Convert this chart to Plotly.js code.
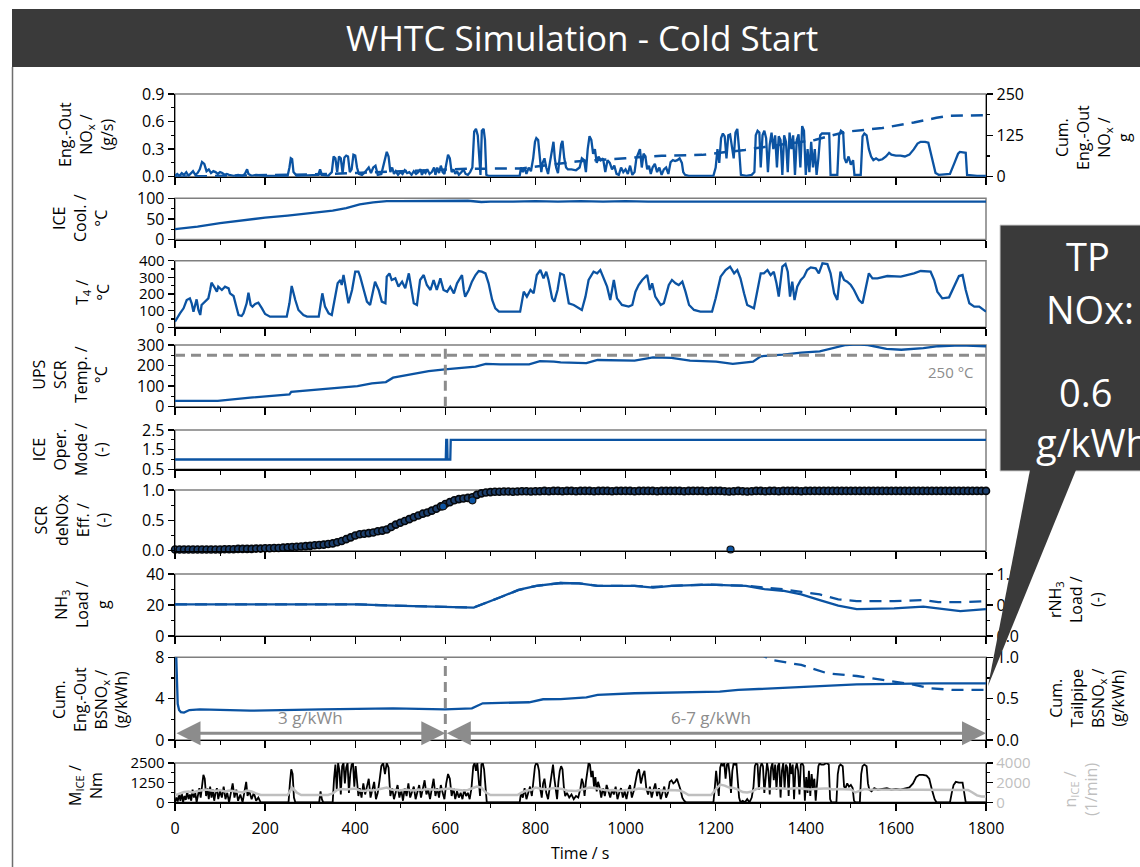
<!DOCTYPE html>
<html><head><meta charset="utf-8">
<script src="https://cdn.plot.ly/plotly-3.0.1.min.js"></script>
<style>html,body{margin:0;padding:0;background:#fff}#chart{width:1140px;height:867px}</style>
</head><body><div id="chart"></div>
<script>
// ---------------- DATA (time in s) ----------------
const xTicks = [0,200,400,600,800,1000,1200,1400,1600,1800];

// Engine-out NOx mass flow (g/s)
const noxPts = [[0,0.01],[5,0.03],[10,0.01],[15,0.04],[20,0.02],[25,0.05],[30,0.01],[35,0.03],[40,0.06],[45,0.02],[50,0.04],[55,0.08],[60,0.16],[65,0.14],[70,0.06],[75,0.08],[80,0.04],[85,0.06],[90,0.05],[95,0.03],[100,0.05],[105,0.04],[110,0.02],[115,0.03],[120,0.02],[130,0.01],[140,0.02],[150,0.01],[155,0.03],[160,0.08],[163,0.03],[170,0.01],[180,0.02],[200,0.01],[220,0.01],[250,0.01],[254,0.1],[257,0.2],[260,0.19],[263,0.05],[270,0.01],[318,0.02],[322,0.08],[326,0.02],[340,0.01],[348,0.05],[352,0.22],[356,0.2],[360,0.05],[364,0.22],[368,0.2],[372,0.04],[376,0.21],[380,0.23],[384,0.22],[388,0.05],[392,0.08],[396,0.24],[400,0.23],[404,0.1],[408,0.03],[415,0.02],[420,0.04],[426,0.08],[430,0.1],[435,0.04],[440,0.1],[445,0.12],[450,0.02],[458,0.03],[462,0.12],[466,0.2],[470,0.27],[474,0.22],[478,0.05],[482,0.1],[486,0.03],[490,0.06],[495,0.02],[500,0.05],[505,0.03],[510,0.07],[515,0.04],[520,0.05],[525,0.02],[530,0.06],[535,0.03],[540,0.05],[545,0.08],[548,0.02],[552,0.06],[556,0.04],[560,0.08],[565,0.03],[570,0.05],[575,0.1],[578,0.02],[582,0.1],[586,0.04],[590,0.12],[594,0.05],[598,0.03],[602,0.15],[606,0.24],[610,0.2],[614,0.05],[618,0.08],[622,0.03],[626,0.06],[630,0.02],[636,0.05],[640,0.08],[645,0.03],[650,0.02],[655,0.05],[660,0.1],[664,0.49],[668,0.52],[672,0.45],[675,0.2],[678,0.02],[681,0.5],[685,0.52],[688,0.4],[691,0.02],[695,0.01],[765,0.01],[768,0.1],[772,0.05],[776,0.1],[780,0.03],[785,0.1],[790,0.06],[795,0.2],[799,0.38],[802,0.42],[806,0.4],[810,0.2],[813,0.05],[816,0.15],[820,0.2],[824,0.1],[828,0.03],[832,0.15],[836,0.25],[840,0.38],[843,0.2],[846,0.1],[850,0.04],[853,0.2],[857,0.35],[860,0.39],[864,0.2],[868,0.1],[872,0.08],[880,0.08],[890,0.07],[898,0.1],[903,0.2],[908,0.18],[912,0.05],[916,0.3],[920,0.44],[924,0.4],[928,0.25],[932,0.3],[936,0.15],[940,0.22],[945,0.18],[950,0.2],[955,0.05],[960,0.18],[965,0.15],[970,0.08],[975,0.12],[980,0.03],[985,0.02],[990,0.1],[995,0.05],[1000,0.08],[1005,0.03],[1010,0.12],[1015,0.02],[1020,0.05],[1024,0.2],[1028,0.25],[1032,0.3],[1036,0.1],[1040,0.25],[1044,0.22],[1048,0.08],[1052,0.12],[1056,0.03],[1060,0.1],[1065,0.14],[1070,0.05],[1075,0.1],[1080,0.02],[1085,0.08],[1090,0.1],[1095,0.03],[1100,0.16],[1105,0.18],[1110,0.17],[1115,0.18],[1120,0.2],[1125,0.15],[1128,0.05],[1132,0.02],[1140,0.01],[1195,0.01],[1200,0.1],[1204,0.3],[1208,0.15],[1212,0.42],[1216,0.47],[1220,0.44],[1224,0.2],[1228,0.45],[1232,0.46],[1236,0.3],[1240,0.2],[1244,0.48],[1248,0.52],[1252,0.3],[1256,0.02],[1268,0.01],[1280,0.02],[1286,0.05],[1289,0.45],[1293,0.5],[1297,0.48],[1300,0.1],[1304,0.45],[1308,0.5],[1312,0.42],[1316,0.05],[1320,0.35],[1324,0.48],[1328,0.3],[1332,0.45],[1336,0.1],[1340,0.44],[1344,0.4],[1348,0.02],[1352,0.45],[1356,0.38],[1360,0.05],[1364,0.48],[1368,0.3],[1372,0.45],[1376,0.02],[1380,0.4],[1384,0.46],[1388,0.1],[1392,0.55],[1396,0.5],[1400,0.02],[1404,0.3],[1408,0.05],[1412,0.38],[1416,0.1],[1420,0.3],[1424,0.02],[1428,0.2],[1432,0.45],[1436,0.47],[1444,0.47],[1452,0.47],[1455,0.02],[1470,0.02],[1474,0.45],[1478,0.5],[1483,0.48],[1486,0.2],[1490,0.15],[1495,0.22],[1500,0.13],[1505,0.18],[1508,0.02],[1522,0.02],[1526,0.44],[1530,0.47],[1535,0.45],[1540,0.3],[1545,0.22],[1550,0.18],[1556,0.2],[1562,0.18],[1570,0.19],[1578,0.22],[1585,0.26],[1590,0.24],[1600,0.23],[1610,0.23],[1620,0.22],[1630,0.24],[1640,0.3],[1648,0.36],[1655,0.38],[1665,0.38],[1672,0.37],[1680,0.2],[1688,0.04],[1695,0.02],[1720,0.03],[1730,0.15],[1738,0.25],[1742,0.27],[1755,0.26],[1758,0.02],[1780,0.01],[1800,0.01]];

// Cumulative engine-out NOx (g)
const cumNoxPts = [[0,0],[100,2],[200,4],[300,7],[400,11],[500,16],[600,20],[650,24],[770,25],[800,30],[890,46],[1000,56],[1080,63],[1170,66],[1265,81],[1350,98],[1420,111],[1490,136],[1570,147],[1640,164],[1690,178],[1720,184],[1800,186]];

// ICE coolant temperature (°C)
const coolPts = [[0,25],[50,31],[100,40],[150,47],[200,53],[250,58],[300,64],[350,70],[380,76],[410,85],[440,90],[470,93],[500,93],[550,93],[600,93],[650,94],[680,91],[700,92],[750,92],[800,93],[850,92],[900,93],[950,92],[1000,93],[1050,92],[1100,92],[1150,93],[1200,92],[1250,93],[1300,92],[1350,93],[1400,92],[1450,93],[1500,92],[1550,93],[1600,92],[1650,93],[1700,92],[1750,92],[1800,92]];

// T4 exhaust temperature (°C)
const t4Pts = [[0,34],[4,54],[11,84],[19,114],[26,164],[33,174],[37,144],[41,94],[45,140],[48,168],[52,104],[56,74],[59,134],[67,154],[74,174],[78,224],[81,268],[89,234],[93,214],[96,244],[104,224],[111,244],[119,234],[122,204],[130,188],[137,114],[141,74],[148,68],[152,84],[159,144],[163,208],[168,134],[172,124],[178,140],[185,148],[193,114],[200,80],[211,64],[248,64],[254,144],[259,248],[267,164],[274,104],[285,74],[293,64],[319,64],[324,144],[327,204],[333,124],[341,84],[348,74],[356,204],[361,264],[367,284],[370,254],[374,314],[378,254],[381,184],[385,144],[393,224],[400,334],[407,334],[411,304],[419,224],[426,154],[433,134],[439,224],[444,274],[452,224],[459,154],[467,144],[470,304],[476,324],[481,284],[489,294],[496,244],[504,274],[511,234],[519,324],[524,244],[530,144],[537,134],[544,284],[552,314],[559,254],[567,224],[574,284],[581,224],[589,294],[596,224],[604,214],[611,244],[619,204],[626,264],[637,314],[641,224],[644,184],[652,224],[659,274],[667,314],[674,338],[681,334],[689,324],[696,264],[704,164],[711,114],[719,94],[766,94],[774,214],[781,184],[789,224],[796,204],[803,314],[811,344],[818,294],[824,334],[829,284],[837,174],[842,154],[849,224],[855,324],[863,314],[869,214],[874,144],[885,134],[896,114],[903,104],[911,184],[918,284],[929,334],[937,324],[944,344],[952,294],[959,244],[966,164],[974,284],[981,174],[992,134],[1007,124],[1015,134],[1022,214],[1029,254],[1037,284],[1048,314],[1054,224],[1059,264],[1066,184],[1078,134],[1085,144],[1090,194],[1096,254],[1103,284],[1111,264],[1118,254],[1126,274],[1133,214],[1141,134],[1152,104],[1166,94],[1192,94],[1200,174],[1211,304],[1222,344],[1232,364],[1241,324],[1248,344],[1255,294],[1263,204],[1270,134],[1285,114],[1292,224],[1300,324],[1307,324],[1315,344],[1322,314],[1329,334],[1335,264],[1340,184],[1348,364],[1355,380],[1360,334],[1365,184],[1370,274],[1375,164],[1381,244],[1389,284],[1396,304],[1403,344],[1411,360],[1422,354],[1429,324],[1437,384],[1448,380],[1455,324],[1463,204],[1470,164],[1477,334],[1485,284],[1492,274],[1500,254],[1507,224],[1518,164],[1526,144],[1533,244],[1540,324],[1548,294],[1559,294],[1581,308],[1611,304],[1640,324],[1655,338],[1677,334],[1685,284],[1692,214],[1703,174],[1718,180],[1729,244],[1740,308],[1748,314],[1755,224],[1763,144],[1774,124],[1785,124],[1796,100],[1800,94]];

// Upstream SCR temperature (°C)
const upsPts = [[0,28],[95,28],[167,44],[214,54],[254,60],[258,72],[325,84],[365,94],[405,100],[437,113],[468,120],[484,141],[524,159],[563,173],[599,182],[643,190],[667,195],[690,208],[722,206],[786,206],[810,222],[841,219],[856,216],[913,212],[938,227],[1020,224],[1061,240],[1102,237],[1143,224],[1201,219],[1238,208],[1283,219],[1300,245],[1349,253],[1390,263],[1431,269],[1464,285],[1489,300],[1513,303],[1538,300],[1579,281],[1612,277],[1661,285],[1694,294],[1743,298],[1800,294]];

// ICE operation mode (-)
const modePts = [[0,1],[601,1],[602,2],[604,2],[605,1],[611,1],[612,2],[1800,2]];

// SCR deNOx efficiency (-), every 10 s from 0 to 1800 s
const effVals = [0.02,0.02,0.02,0.02,0.02,0.02,0.02,0.02,0.02,0.02,0.02,
0.025,0.025,0.025,0.03,0.03,0.03,0.03,
0.035,0.035,0.04,0.04,0.045,0.045,0.05,
0.055,0.06,0.065,0.07,0.075,0.08,0.09,0.095,0.1,0.11,0.12,
0.14,0.16,0.19,0.22,0.25,0.27,0.28,0.29,0.3,0.32,
0.33,0.35,0.39,0.43,0.46,0.49,0.52,0.55,0.58,0.61,
0.63,0.66,0.69,0.73,0.77,0.8,0.83,0.85,0.86,0.87,
0.88,0.92,0.945,0.96,0.965,
0.97,0.97,0.975,0.975,0.97,0.975,0.98,0.98,0.975,0.98,
0.98,0.985,0.98,0.985,0.985,0.98,0.985,0.985,0.98,0.985,
0.985,0.985,0.98,0.985,0.985,0.985,0.98,0.985,0.985,0.985,
0.985,0.98,0.985,0.985,0.985,0.985,0.98,0.985,0.985,0.985,
0.985,0.985,0.98,0.985,0.985,0.985,0.985,0.98,0.985,0.985,
0.985,0.98,0.975,0.98,0.985,0.98,0.975,0.98,0.985,0.985,
0.98,0.985,0.985,0.98,0.985,0.985,0.985,0.985,0.98,0.985,
0.985,0.985,0.985,0.985,0.985,0.985,0.985,0.985,0.985,0.985,
0.985,0.985,0.985,0.985,0.985,0.985,0.985,0.985,0.985,0.985,
0.985,0.985,0.985,0.985,0.985,0.985,0.985,0.985,0.985,0.985,
0.985,0.985,0.985,0.985,0.985,0.985,0.985,0.985,0.985,0.985];
const effOutliers = [[595,0.73],[660,0.83],[1233,0.02]];

// NH3 load (g) and relative NH3 load (-)
const nh3Pts = [[0,20.4],[405,20.4],[484,19.6],[563,18.9],[663,18.3],[722,25],[762,29.7],[802,32.3],[856,34.2],[897,34],[938,32.3],[1020,32.3],[1061,31.2],[1102,32.3],[1184,33.1],[1267,32.3],[1308,30.3],[1349,29.2],[1390,26.9],[1431,23.2],[1472,19.6],[1513,17.4],[1596,17.8],[1661,18.9],[1694,17.8],[1743,16.1],[1800,17.4]];
const rnh3Pts = [[0,0.51],[405,0.51],[484,0.49],[563,0.475],[663,0.46],[722,0.625],[762,0.74],[802,0.81],[856,0.855],[897,0.85],[938,0.81],[1020,0.81],[1061,0.79],[1102,0.81],[1184,0.83],[1267,0.81],[1308,0.78],[1349,0.754],[1390,0.71],[1431,0.67],[1472,0.59],[1513,0.563],[1596,0.563],[1661,0.58],[1694,0.546],[1743,0.546],[1800,0.563]];

// Cumulative brake-specific NOx (g/kWh): engine-out (left) and tailpipe (right)
const bsEoPts = [[0,12],[2,8.5],[4,4.2],[6,3.5],[9,2.9],[13,2.7],[20,2.65],[32,2.9],[55,2.97],[167,2.84],[325,2.97],[484,3.06],[599,2.97],[659,3.06],[683,3.55],[722,3.6],[786,3.65],[817,3.94],[856,3.96],[913,4.13],[938,4.36],[1020,4.52],[1102,4.61],[1209,4.68],[1250,4.84],[1349,5.06],[1431,5.23],[1513,5.39],[1596,5.42],[1678,5.48],[1800,5.48]];
const bsTpPts = [[1290,1.06],[1324,0.968],[1390,0.907],[1448,0.806],[1513,0.774],[1579,0.718],[1636,0.673],[1678,0.625],[1727,0.605],[1800,0.605]];

// ICE torque (Nm)
const torqPts = [[0,0],[3,300],[6,50],[9,500],[12,100],[15,600],[18,0],[21,400],[24,150],[27,700],[30,200],[33,500],[36,100],[39,800],[42,300],[45,600],[48,0],[51,400],[54,900],[57,300],[60,1200],[63,1750],[66,1500],[69,400],[72,900],[75,200],[78,1000],[81,300],[84,800],[87,100],[90,600],[93,900],[96,200],[100,700],[104,300],[108,1000],[112,200],[116,600],[120,0],[124,500],[128,1200],[132,300],[136,800],[140,100],[145,500],[150,0],[155,900],[158,1300],[161,400],[165,700],[170,200],[175,600],[180,100],[185,300],[190,0],[252,0],[255,1200],[258,2100],[261,1800],[264,300],[267,0],[320,0],[323,700],[326,200],[329,0],[350,0],[353,1500],[356,2400],[359,800],[362,2500],[365,2000],[368,500],[371,2300],[374,2500],[377,1200],[380,2200],[383,2500],[386,600],[389,1800],[392,2400],[395,2500],[398,1000],[401,2300],[404,1500],[407,400],[410,900],[414,300],[418,1200],[422,500],[426,1000],[430,1500],[434,300],[438,800],[442,1300],[446,200],[450,600],[454,1400],[458,2300],[462,2500],[466,1800],[470,2500],[474,2200],[478,400],[482,900],[486,200],[490,700],[494,1100],[498,300],[502,800],[506,100],[510,900],[514,400],[518,1200],[522,300],[526,700],[530,1000],[534,200],[538,600],[542,1100],[546,300],[550,900],[554,1400],[558,500],[562,800],[566,200],[570,1000],[574,1500],[578,400],[582,900],[586,300],[590,1100],[594,600],[598,200],[602,1200],[606,1800],[610,1500],[614,400],[618,900],[622,200],[626,700],[630,300],[634,600],[638,200],[642,800],[646,400],[650,600],[654,200],[658,900],[662,2300],[665,2500],[668,2000],[671,2500],[674,1200],[677,400],[680,2400],[683,2500],[686,2100],[689,800],[692,0],[765,0],[768,600],[772,300],[776,900],[780,200],[784,700],[788,1000],[792,400],[796,1500],[799,2300],[802,2500],[805,2400],[808,2000],[811,800],[814,300],[817,1200],[820,1500],[824,600],[828,200],[832,1100],[836,1800],[839,2400],[842,1500],[845,600],[848,200],[851,1300],[854,2000],[857,2300],[860,2100],[863,1000],[866,400],[870,600],[875,300],[880,500],[885,200],[890,400],[895,300],[900,900],[903,1500],[906,1200],[909,400],[912,1300],[915,2000],[918,2500],[921,2400],[924,1600],[927,2000],[930,1000],[933,1600],[936,700],[939,1300],[942,1000],[946,300],[950,900],[954,400],[958,1100],[962,700],[966,300],[970,800],[974,500],[978,1000],[982,200],[986,600],[990,900],[994,300],[998,700],[1002,200],[1006,800],[1010,1100],[1014,300],[1018,700],[1022,1400],[1026,1900],[1030,2100],[1034,1200],[1038,1700],[1042,2000],[1046,900],[1050,500],[1054,1000],[1058,300],[1062,800],[1066,1200],[1070,400],[1074,900],[1078,200],[1082,700],[1086,1000],[1090,300],[1094,600],[1098,1300],[1102,1400],[1106,1200],[1110,1300],[1114,1500],[1118,1200],[1122,800],[1126,300],[1130,100],[1134,0],[1195,0],[1198,900],[1201,2000],[1204,1200],[1207,400],[1210,2200],[1213,2500],[1216,2300],[1219,2500],[1222,1500],[1225,2400],[1228,2500],[1231,1800],[1234,600],[1237,2000],[1240,2500],[1243,2400],[1246,2500],[1249,1200],[1252,300],[1255,0],[1260,100],[1265,0],[1270,200],[1275,0],[1280,300],[1284,1000],[1287,2300],[1290,2500],[1293,2400],[1296,800],[1299,2200],[1302,2500],[1305,2300],[1308,600],[1311,1900],[1314,2500],[1317,2000],[1320,500],[1323,2200],[1326,2500],[1329,1400],[1332,2400],[1335,800],[1338,2300],[1341,2500],[1344,300],[1347,2000],[1350,2500],[1353,900],[1356,2400],[1359,2200],[1362,400],[1365,2500],[1368,1800],[1371,2400],[1374,200],[1377,2100],[1380,2500],[1383,2000],[1386,500],[1389,2400],[1392,2500],[1395,2300],[1398,100],[1401,1600],[1404,600],[1407,2000],[1410,400],[1413,1800],[1416,900],[1419,1500],[1422,100],[1425,1200],[1428,2300],[1431,2500],[1434,2400],[1440,2400],[1446,2500],[1451,2400],[1454,200],[1457,0],[1468,0],[1471,1800],[1474,2300],[1477,2400],[1482,2300],[1485,1000],[1488,900],[1492,1200],[1496,1000],[1500,1100],[1504,900],[1507,100],[1510,0],[1520,0],[1523,1800],[1526,2300],[1530,2400],[1535,2300],[1538,1200],[1541,800],[1546,700],[1552,900],[1560,800],[1570,850],[1580,900],[1590,800],[1600,850],[1610,800],[1620,900],[1630,950],[1638,1200],[1645,1600],[1652,1750],[1660,1750],[1668,1700],[1674,1500],[1680,800],[1686,200],[1690,0],[1720,0],[1724,600],[1728,1100],[1733,1300],[1740,1250],[1748,1250],[1752,600],[1755,0],[1800,0]];

// ICE speed (1/min), every 10 s from 0 to 1800 s
const speedVals = [700,900,1050,1100,1000,1150,1250,1300,1200,1150,1250,1100,1200,1150,1050,1000,1200,1100,900,
740,740,740,740,740,740,740,
1500,1000,
740,740,740,740,740,740,740,
900,1250,1350,1300,1350,1400,1200,1150,1250,1200,1300,1400,1500,1300,1250,1200,1300,1250,1200,1300,1250,1350,1300,1250,1300,1350,1400,1300,1250,1200,1250,1400,1600,1500,1000,
740,740,740,740,740,740,740,
1000,1200,1250,1500,1400,1300,1350,1450,1400,1350,1200,1150,1150,1250,1350,1500,1450,1350,1250,1200,1250,1200,1150,1250,1200,1300,1400,1350,1250,1200,1250,1200,1150,1250,1250,1200,1000,
740,740,740,740,740,740,
1300,1800,1700,1500,1450,1300,1050,1000,1100,1350,1450,1400,1350,1400,1450,1400,1350,1400,1450,1400,1350,1300,1350,1400,1400,1400,1300,1350,1350,1300,1300,1000,1200,1350,1300,
1300,1300,1310,1300,1290,1300,1310,1300,1300,1290,1300,1310,1300,1300,1290,1300,1310,1300,1300,1290,1300,
1250,1000,700,600,600];

// ---------------- GEOMETRY ----------------
const W = 1140, H = 867, X0 = 175, X1 = 986;
const px = p => p / W, py = p => 1 - p / H;
const BLUE = '#0b53a2', GREY = '#8c8c8c', LGREY = '#bfbfbf';
const FONT = 'Open Sans, Noto Sans, sans-serif';
// panel pixel extents [top, bottom]
const panels = [[94,176.7],[198.3,239.5],[260.7,327.3],[345,406.7],[430,469.3],[490,550.7],[574,636],[657.3,740],[763,802.3]];
const grid10 = speedVals.map((_, i) => i * 10);
const xs = a => a.map(p => p[0]), ys = a => a.map(p => p[1]);

const layout = {
  width: W, height: H, autosize: false,
  margin: {l:0, r:0, t:0, b:0},
  paper_bgcolor: '#fff', plot_bgcolor: 'rgba(0,0,0,0)',
  showlegend: false,
  font: {family: FONT, size: 16, color: '#000'},
  shapes: [], annotations: []
};

const yCfg = [
  {range:[0,0.9], dtick:0.3, tick0:0, minor:0.15, fmt:'.1f'},
  {range:[0,100], dtick:50, tick0:0, minor:25},
  {range:[0,400], dtick:100, tick0:0, minor:50, fs:15},
  {range:[0,300], dtick:100, tick0:0, minor:50},
  {range:[0.5,2.5], dtick:1, tick0:0.5, minor:0.5, fmt:'.1f'},
  {range:[0,1], dtick:0.5, tick0:0, minor:0.25, fmt:'.1f'},
  {range:[0,40], dtick:20, tick0:0, minor:10},
  {range:[0,8], dtick:4, tick0:0, minor:2},
  {range:[0,2500], dtick:1250, tick0:0, minor:625, fs:15}
];

for (let i = 1; i <= 9; i++) {
  const k = i === 1 ? '' : String(i);
  const [top, bot] = panels[i-1];
  layout['xaxis' + k] = {
    domain: [px(X0), px(X1)], range: [0,1800], anchor: 'y' + k,
    showline: true, linecolor: '#000', linewidth: 1.3,
    ticks: 'outside', ticklen: 7, tickwidth: 1.3, tickcolor: '#000',
    tickmode: 'linear', tick0: 0, dtick: 200,
    minor: {ticks: 'outside', ticklen: 4, tickwidth: 1.1, tickcolor: '#000', dtick: 100, tick0: 0, showgrid: false},
    showticklabels: i === 9, tickfont: {size: 16, family: FONT}, ticklabelstandoff: 4,
    showgrid: false, zeroline: false, fixedrange: true
  };
  const c = yCfg[i-1];
  layout['yaxis' + k] = {
    domain: [py(bot), py(top)], range: c.range, anchor: 'x' + k,
    showline: true, linecolor: '#000', linewidth: 1.3,
    ticks: 'outside', ticklen: 6, tickwidth: 1.3, tickcolor: '#000',
    tickmode: 'linear', tick0: c.tick0, dtick: c.dtick, tickformat: c.fmt || '',
    minor: {ticks: 'outside', ticklen: 3, tickwidth: 1.1, tickcolor: '#000', dtick: c.minor, tick0: c.tick0, showgrid: false},
    tickfont: {size: c.fs || 16, family: FONT},
    showgrid: false, zeroline: false, fixedrange: true
  };
  layout.shapes.push({type:'rect', xref:'paper', yref:'paper', x0:px(X0), x1:px(X1), y0:py(bot), y1:py(top),
    line:{color:'#7f7f7f', width:1.5}, fillcolor:'rgba(0,0,0,0)', layer:'below'});
}

function rightAxis(base, range, dtick, minor, fmt, color) {
  return {overlaying: 'y' + base, side: 'right', anchor: 'x' + base, range: range,
    showline: true, linecolor: '#000', linewidth: 1.3,
    ticks: 'outside', ticklen: 6, tickwidth: 1.3, tickcolor: '#000',
    tickmode: 'linear', tick0: 0, dtick: dtick, tickformat: fmt || '',
    minor: {ticks: 'outside', ticklen: 3, tickwidth: 1.1, tickcolor: '#000', dtick: minor, tick0: 0, showgrid: false},
    tickfont: {size: 16, family: FONT, color: color || '#000'},
    showgrid: false, zeroline: false, fixedrange: true};
}
layout.yaxis10 = rightAxis('', [0,250], 125, 62.5);
layout.yaxis11 = rightAxis('7', [0,1], 0.5, 0.25, '.1f');
layout.yaxis12 = rightAxis('8', [0,1], 0.5, 0.25, '.1f');
layout.yaxis13 = rightAxis('9', [0,4000], 2000, 1000, '', LGREY);
layout.yaxis13.tickfont.size = 15;
layout.yaxis10.overlaying = 'y';
layout.yaxis10.anchor = 'x';

// ---------------- TRACES ----------------
const ln = (c, w, d) => ({color: c, width: w, dash: d || 'solid'});
const traces = [
  {x: xs(noxPts), y: ys(noxPts), xaxis:'x', yaxis:'y', mode:'lines', line: ln(BLUE, 2.3)},
  {x: xs(cumNoxPts), y: ys(cumNoxPts), xaxis:'x', yaxis:'y10', mode:'lines', line: ln(BLUE, 2.5, '12px,8px')},
  {x: xs(coolPts), y: ys(coolPts), xaxis:'x2', yaxis:'y2', mode:'lines', line: ln(BLUE, 2.3)},
  {x: xs(t4Pts), y: ys(t4Pts), xaxis:'x3', yaxis:'y3', mode:'lines', line: ln(BLUE, 2.3)},
  {x: xs(upsPts), y: ys(upsPts), xaxis:'x4', yaxis:'y4', mode:'lines', line: ln(BLUE, 2.3)},
  {x: xs(modePts), y: ys(modePts), xaxis:'x5', yaxis:'y5', mode:'lines', line: ln(BLUE, 2.3)},
  {x: grid10, y: effVals, xaxis:'x6', yaxis:'y6', mode:'lines+markers', line: ln('#10161e', 5),
    marker: {size: 7, color: '#1d3f6c', line: {color: '#05080c', width: 1.6}}, cliponaxis: false},
  {x: xs(effOutliers), y: ys(effOutliers), xaxis:'x6', yaxis:'y6', mode:'markers',
    marker: {size: 7, color: BLUE, line: {color: '#111', width: 1.2}}, cliponaxis: false},
  {x: xs(nh3Pts), y: ys(nh3Pts), xaxis:'x7', yaxis:'y7', mode:'lines', line: ln(BLUE, 2.3)},
  {x: xs(rnh3Pts), y: ys(rnh3Pts), xaxis:'x7', yaxis:'y11', mode:'lines', line: ln(BLUE, 2.3, '12px,8px')},
  {x: xs(bsEoPts), y: ys(bsEoPts), xaxis:'x8', yaxis:'y8', mode:'lines', line: ln(BLUE, 2.3)},
  {x: xs(bsTpPts), y: ys(bsTpPts), xaxis:'x8', yaxis:'y12', mode:'lines', line: ln(BLUE, 2.3, '12px,8px')},
  {x: xs(torqPts), y: ys(torqPts), xaxis:'x9', yaxis:'y9', mode:'lines', line: ln('#000', 1.8)},
  {x: grid10, y: speedVals, xaxis:'x9', yaxis:'y13', mode:'lines', line: ln(LGREY, 2.5)}
];

// ---------------- SHAPES / REFERENCE LINES ----------------
layout.shapes.push(
  {type:'line', xref:'x4 domain', yref:'y4', x0:0, x1:1, y0:250, y1:250, line:{color:GREY, width:3, dash:'10px,6px'}},
  {type:'line', xref:'x4', yref:'y4 domain', x0:600, x1:600, y0:0, y1:1, line:{color:GREY, width:3, dash:'10px,6px'}},
  {type:'line', xref:'x8', yref:'y8 domain', x0:600, x1:600, y0:0, y1:1, line:{color:GREY, width:3, dash:'10px,6px'}},
  // title bar
  {type:'rect', xref:'paper', yref:'paper', x0:px(12), x1:1.05, y0:py(67), y1:py(9), fillcolor:'#3a3a3a', line:{width:0}, layer:'above'},
  // page border left
  {type:'line', xref:'paper', yref:'paper', x0:px(12.5), x1:px(12.5), y0:py(67), y1:py(870), line:{color:'#6e6e6e', width:1.5}},
  // call-out box and pointer
  {type:'rect', xref:'paper', yref:'paper', x0:px(1000), x1:px(1185), y0:py(471), y1:py(225), fillcolor:'#3a3a3a', line:{color:'#cfcfcf', width:1}, layer:'above'},
  {type:'path', xref:'paper', yref:'paper', layer:'above', fillcolor:'#3a3a3a', line:{width:0},
   path:`M ${px(1030)} ${py(470)} L ${px(1076)} ${py(470)} L ${px(988)} ${py(686)} Z`}
);

// ---------------- TEXT ----------------
const A = layout.annotations;
function txt(text, x, y, opts) {
  A.push(Object.assign({text: text, xref:'paper', yref:'paper', x: px(x), y: py(y), showarrow:false,
    xanchor:'center', yanchor:'middle', font:{family:FONT, size:16, color:'#000'}}, opts || {}));
}
txt('WHTC Simulation - Cold Start', 582, 38, {font:{family:FONT, size:35, color:'#fff'}});
// left titles
const vt = {textangle:-90};
txt('Eng.-Out<br>NO<sub>x</sub> /<br>(g/s)', 86, 135, vt);
txt('ICE<br>Cool. /<br>°C', 80, 218, vt);
txt('T<sub>4</sub> /<br>°C', 93, 293, vt);
txt('UPS<br>SCR<br>Temp. /<br>°C', 70, 375, vt);
txt('ICE<br>Oper.<br>Mode /<br>(-)', 70, 450, vt);
txt('SCR<br>deNOx<br>Eff. /<br>(-)', 72, 520, vt);
txt('NH<sub>3</sub><br>Load /<br>g', 82, 605, vt);
txt('Cum.<br>Eng.-Out<br>BSNO<sub>x</sub> /<br>(g/kWh)', 90, 700, vt);
txt('M<sub>ICE</sub> /<br>Nm', 85, 786, vt);
// right titles
txt('Cum.<br>Eng.-Out<br>NO<sub>x</sub> /<br>g', 1093, 138, vt);
txt('rNH<sub>3</sub><br>Load /<br>(-)', 1076, 600, vt);
txt('Cum.<br>Tailpipe<br>BSNO<sub>x</sub> /<br>(g/kWh)', 1087, 698, vt);
txt('n<sub>ICE</sub> /<br>(1/min)', 1080, 790, {textangle:-90, font:{family:FONT, size:16, color:LGREY}});
// x title
txt('Time / s', 580, 853);
// call-out text
const wf = {font:{family:FONT, size:38, color:'#fff'}};
txt('TP', 1088, 256, wf);
txt('NOx:', 1090, 309, wf);
txt('0.6', 1085, 392, wf);
txt('g/kWh', 1092, 442, wf);
// reference labels
A.push({text:'250 °C', xref:'x4', yref:'y4', x:1778, y:168, xanchor:'right', yanchor:'middle', showarrow:false,
  font:{family:FONT, size:15, color:GREY}});
A.push({text:'3 g/kWh', xref:'x8', yref:'y8', x:300, y:2.15, showarrow:false, font:{family:FONT, size:17, color:GREY}});
A.push({text:'6-7 g/kWh', xref:'x8', yref:'y8', x:1190, y:2.15, showarrow:false, font:{family:FONT, size:17, color:GREY}});
// double-headed arrows
[[0,600],[600,1800]].forEach(([a,b]) => {
  A.push({text:'', xref:'x8', yref:'y8', axref:'x8', ayref:'y8', x:b, y:0.65, ax:a, ay:0.65,
    showarrow:true, arrowhead:2, startarrowhead:2, arrowside:'end+start', arrowsize:1.6, startarrowsize:1.6,
    arrowwidth:3, arrowcolor:GREY, standoff:0, startstandoff:0});
});

Plotly.newPlot('chart', traces, layout, {staticPlot:true, displayModeBar:false});
</script>
</body></html>
